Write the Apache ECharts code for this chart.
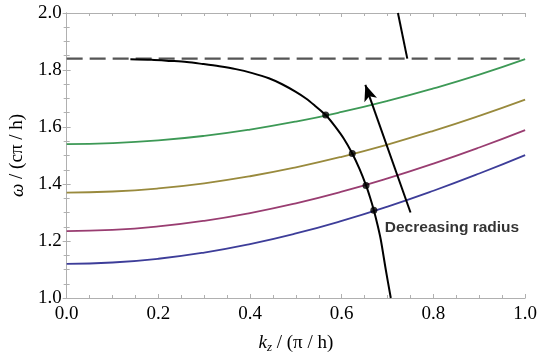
<!DOCTYPE html>
<html>
<head>
<meta charset="utf-8">
<script src="https://cdn.jsdelivr.net/npm/echarts@6/dist/echarts.min.js"></script>
<style>
html,body{margin:0;padding:0;background:#fff;}
#chart{width:540px;height:359px;}
</style>
</head>
<body>
<div id="chart"></div>
<script>
// Data
var kz = [0, 0.1, 0.2, 0.3, 0.4, 0.5, 0.6, 0.7, 0.8, 0.9, 1.0];
var blueW    = [1.120, 1.1245, 1.1377, 1.1595, 1.1893, 1.2265, 1.2706, 1.3208, 1.3764, 1.4368, 1.5015];
var magentaW = [1.235, 1.2390, 1.2511, 1.2709, 1.2982, 1.3324, 1.3730, 1.4196, 1.4715, 1.5281, 1.5891];
var oliveW   = [1.370, 1.3736, 1.3845, 1.4025, 1.4272, 1.4584, 1.4956, 1.5385, 1.5865, 1.6392, 1.6961];
var greenW   = [1.540, 1.5433, 1.5529, 1.5689, 1.5911, 1.6191, 1.6528, 1.6916, 1.7354, 1.7837, 1.8380];
var blackCurve = [[0.139,1.838],[0.185,1.836],[0.226,1.832],[0.262,1.828],[0.297,1.821],[0.333,1.813],[0.369,1.803],[0.405,1.789],[0.441,1.771],[0.470,1.750],[0.499,1.724],[0.522,1.700],[0.542,1.674],[0.565,1.642],[0.585,1.603],[0.605,1.558],[0.623,1.507],[0.639,1.452],[0.653,1.395],[0.662,1.352],[0.670,1.308],[0.678,1.257],[0.685,1.206],[0.696,1.10],[0.707,1.0]];
var upperBranch = [[0.7226, 2.0], [0.743, 1.84]];
var asymptote = 1.84;
var dots = [[0.565,1.642],[0.623,1.507],[0.653,1.395],[0.670,1.308]];
var arrowFrom = [0.75, 1.30];
var arrowTo = [0.6515, 1.748];
var noteText = 'Decreasing radius';
var notePos = [0.8405, 1.248];
var xTicks = [0.0, 0.2, 0.4, 0.6, 0.8, 1.0];
var yTicks = [1.0, 1.2, 1.4, 1.6, 1.8, 2.0];

function pairs(xs, ys){ return xs.map(function(x,i){ return [x, ys[i]]; }); }

var serif = 'Liberation Serif';
var chart = echarts.init(document.getElementById('chart'));
var frameLine = {show:true, lineStyle:{color:'#b0b0b0', width:1}};
var tickStyle = {show:true, inside:true, length:4, lineStyle:{color:'#b0b0b0'}};
var minorStyle = {show:true, splitNumber:4, length:3, lineStyle:{color:'#b0b0b0'}};

var option = {
  animation:false,
  grid:{left:62, right:14, top:13, bottom:60},
  xAxis:[{
    type:'value', min:0, max:1, interval:0.2, position:'bottom',
    axisLine:frameLine, axisTick:tickStyle, minorTick:minorStyle,
    splitLine:{show:false},
    axisLabel:{fontFamily:serif, fontSize:19, color:'#000', margin:7,
      formatter:function(v){ return v.toFixed(1); }},
    name:'{i|k}{s|z}{n| / (π / h)}', nameLocation:'middle', nameGap:34,
    nameTextStyle:{rich:{
      i:{fontFamily:serif, fontSize:19, fontStyle:'italic', color:'#000'},
      s:{fontFamily:serif, fontSize:13, fontStyle:'italic', color:'#000', padding:[9,0,0,0]},
      n:{fontFamily:serif, fontSize:19, color:'#000'}
    }}
  },{
    type:'value', min:0, max:1, interval:0.2, position:'top',
    axisLine:frameLine, axisTick:tickStyle, minorTick:minorStyle,
    splitLine:{show:false}, axisLabel:{show:false}
  }],
  yAxis:[{
    type:'value', min:1, max:2, interval:0.2, position:'left',
    axisLine:frameLine, axisTick:tickStyle, minorTick:minorStyle,
    splitLine:{show:false},
    axisLabel:{fontFamily:serif, fontSize:19, color:'#000', margin:5,
      formatter:function(v){ return v.toFixed(1); }},
    name:'{i|ω}{n| / (cπ / h)}', nameLocation:'middle', nameGap:39, nameRotate:90,
    nameTextStyle:{rich:{
      i:{fontFamily:serif, fontSize:19, fontStyle:'italic', color:'#000'},
      n:{fontFamily:serif, fontSize:19, color:'#000'}
    }}
  },{
    type:'value', min:1, max:2, interval:0.2, position:'right',
    axisLine:frameLine, axisTick:tickStyle, minorTick:minorStyle,
    splitLine:{show:false}, axisLabel:{show:false}
  }],
  series:[
    {type:'line', data:[[0,asymptote],[1,asymptote]], symbol:'none',
      lineStyle:{color:'#555', width:2.2, type:[16,7]}, z:2},
    {type:'line', data:pairs(kz, blueW), smooth:true, symbol:'none', lineStyle:{color:'#3d3d99', width:1.8}},
    {type:'line', data:pairs(kz, magentaW), smooth:true, symbol:'none', lineStyle:{color:'#993d71', width:1.8}},
    {type:'line', data:pairs(kz, oliveW), smooth:true, symbol:'none', lineStyle:{color:'#998a3d', width:1.8}},
    {type:'line', data:pairs(kz, greenW), smooth:true, symbol:'none', lineStyle:{color:'#3d9956', width:1.8}},
    {type:'line', data:blackCurve, smooth:0.3, symbol:'none', lineStyle:{color:'#000', width:2}, z:5},
    {type:'line', data:upperBranch, symbol:'none', lineStyle:{color:'#000', width:2}, z:5},
    {type:'scatter', data:dots, symbol:'circle', symbolSize:7, itemStyle:{color:'#000'}, z:6,
      markLine:{silent:true, symbol:['none','arrow'], symbolSize:[10,16],
        lineStyle:{color:'#000', width:2, type:'solid'}, label:{show:false},
        data:[[{coord:arrowFrom},{coord:arrowTo}]]}},
    {type:'scatter', data:[notePos], symbolSize:0, z:7,
      label:{show:true, position:[0,0], align:'center', verticalAlign:'middle', formatter:noteText,
        fontFamily:'Liberation Sans', fontWeight:'bold', fontSize:15.5, color:'#000'}}
  ]
};
chart.setOption(option);
</script>
</body>
</html>
